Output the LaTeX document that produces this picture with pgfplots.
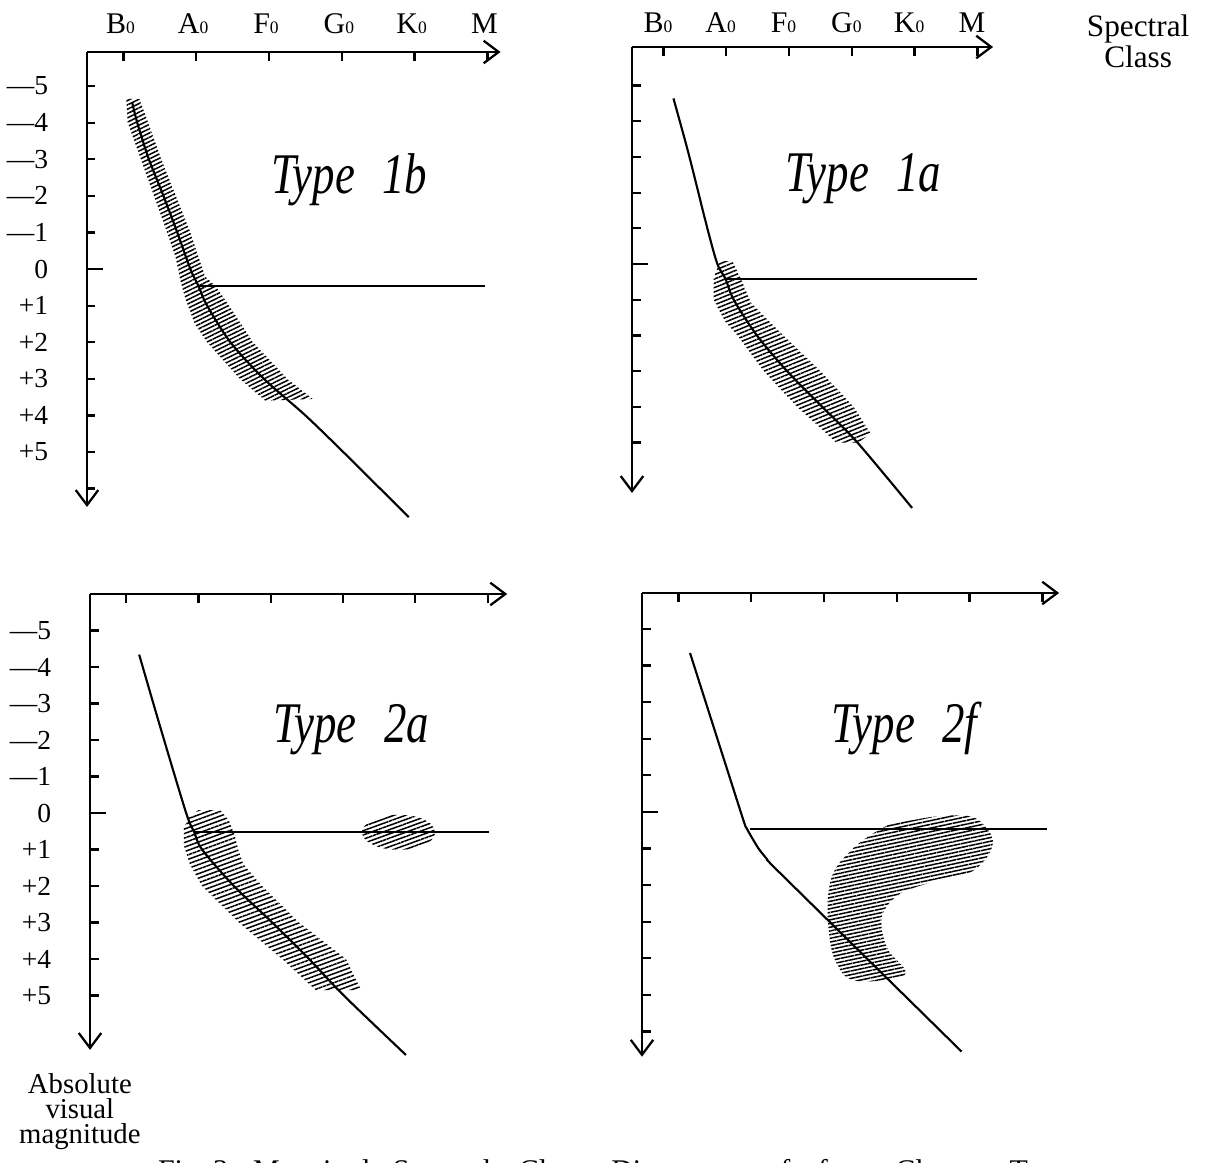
\documentclass[border=0pt]{standalone}
\usepackage{fontspec}
\setmainfont{Liberation Serif}
\usepackage{graphicx}
\usepackage{pgfplots}
\pgfplotsset{compat=1.18}
\usetikzlibrary{arrows.meta,patterns.meta}

\newcommand{\typelabel}[2]{\scalebox{0.78}[1]{\fontsize{23}{23}\selectfont\itshape #1\hspace{14pt}#2}}

\pgfplotsset{
  hrd/.style={
    axis x line=top,
    axis y line=left,
    y dir=reverse,
    clip=false,
    xmin=-0.5,
    xtick={0,1,2,3,4,5},
    ytick={-5,-4,-3,-2,-1,0,1,2,3,4,5},
    tick align=inside,
    major tick length=3.4pt,
    every tick/.style={black, line width=0.9pt},
    axis line style={line width=1.1pt, -{Straight Barb[length=6pt,width=9pt,line width=0.9pt]}},
    tick label style={font=\fontsize{11}{13}\selectfont},
    xticklabel style={anchor=base, yshift=7.6pt, font=\fontsize{12}{14}\selectfont},
    yticklabel style={anchor=east, xshift=-12pt},
    xticklabels={},
    yticklabels={},
    anchor=north west,
  },
  speclabels/.style={xticklabels={B{\scriptsize 0},A{\scriptsize 0},F{\scriptsize 0},G{\scriptsize 0},K{\scriptsize 0},M}},
  maglabels/.style={yticklabels={—5,—4,—3,—2,—1,0,+1,+2,+3,+4,+5}},
  msline/.style={black, line width=0.85pt, smooth, tension=0.5, mark=none},
  hline/.style={black, line width=0.85pt, mark=none},
}

\begin{document}
\begin{tikzpicture}
\path[use as bounding box] (0pt,0pt) rectangle (482.8pt,-465.2pt);

% ---------------- Type 1b ----------------
\begin{axis}[hrd, speclabels, maglabels, at={(34.8pt,-20.8pt)},
  x=29.12pt, y=14.64pt, ymin=-5.93, xmax=5.18, ymax=6.5,
  ytick={-5,-4,-3,-2,-1,0,1,2,3,4,5,6},
  xticklabel style={xshift=-1.2pt}]
\addplot[draw=none, pattern={Lines[angle=26,distance=1.55pt,line width=0.6pt]}] coordinates {
 (0.04,-4.65) (0.06,-4) (0.24,-3) (0.42,-2) (0.6,-1) (0.72,-0.3) (0.78,0.3) (0.85,0.8) (0.98,1.5) (1.15,2) (1.6,3) (1.95,3.6)
 (2.6,3.55) (2.25,3) (1.78,2) (1.45,1) (1.28,0.5) (1.12,0.2) (0.92,-1) (0.72,-2) (0.52,-3) (0.34,-4) (0.22,-4.65)} -- cycle;
\addplot[msline] coordinates {(0.12,-4.56) (0.19,-4) (0.35,-3) (0.55,-2) (0.74,-1) (0.92,0) (1.03,0.46) (1.15,1) (1.47,2) (1.93,3) (2.5,4) (3.02,5) (3.92,6.78)};
\addplot[hline] coordinates {(1.03,0.46) (4.97,0.46)};
\draw[black, line width=0.9pt] (axis cs:-0.5,0) -- ++(6.5pt,0pt);
\node at (axis cs:3.1,-2.45) {\typelabel{Type}{1b}};
\end{axis}

% ---------------- Type 1a ----------------
\begin{axis}[hrd, speclabels, at={(252.8pt,-18.8pt)},
  x=25.12pt, y=14.28pt, ymin=-6.08, xmax=5.25, ymax=6.41,
  xticklabel style={yshift=-1.6pt, xshift=-2.2pt}]
\addplot[draw=none, pattern={Lines[angle=22,distance=1.6pt,line width=0.6pt]}] coordinates {
 (0.9,-0.08) (0.8,0.4) (0.8,1) (0.98,1.6) (1.18,2) (1.6,3) (2.13,4) (2.6,4.75) (2.75,5.0)
 (3.1,5.0) (3.3,4.75) (3.03,4) (2.5,3) (1.91,2) (1.4,1.1) (1.23,0.4) (1.1,-0.08)} -- cycle;
\addplot[msline] coordinates {(0.16,-4.64) (0.4,-3.1) (0.7,-1) (0.86,0) (0.99,0.42) (1.12,1) (1.49,2) (1.97,3) (2.53,4) (3.09,5) (3.96,6.83)};
\addplot[hline] coordinates {(1.0,0.42) (5.0,0.42)};
\draw[black, line width=0.9pt] (axis cs:-0.5,0) -- ++(6.5pt,0pt);
\node at (axis cs:3.18,-2.39) {\typelabel{Type}{1a}};
\node[anchor=north, inner sep=0pt, align=center, font=\fontsize{12.5}{11.2}\selectfont] at (axis cs:7.56,-7.0) {Spectral\\Class};
\end{axis}

% ---------------- Type 2a ----------------
\begin{axis}[hrd, maglabels, at={(36pt,-237.6pt)},
  x=28.92pt, y=14.6pt, ymin=-6, xmax=5.27, ymax=6.49]
\addplot[draw=none, pattern={Lines[angle=20,distance=1.7pt,line width=0.6pt]}] coordinates {
 (1.0,-0.08) (0.88,0.1) (0.8,0.4) (0.8,0.9) (0.88,1.4) (1.05,2) (1.56,3) (2.16,4) (2.62,4.85)
 (3.25,4.85) (3.04,4) (2.39,3) (1.88,2) (1.62,1.4) (1.55,1.0) (1.5,0.6) (1.42,0.2) (1.3,-0.08)} -- cycle;
\addplot[draw=none, smooth, pattern={Lines[angle=20,distance=1.6pt,line width=0.6pt]}] coordinates {
 (4.28,0.53) (4.21,0.77) (4.03,0.95) (3.77,1.01) (3.52,0.95) (3.33,0.77) (3.26,0.53) (3.33,0.29) (3.52,0.11) (3.77,0.05) (4.03,0.11) (4.21,0.29) (4.28,0.53)} -- cycle;
\addplot[msline] coordinates {(0.18,-4.34) (0.48,-2.3) (0.83,0) (0.94,0.52) (1.05,1) (1.49,2) (2.02,3) (2.53,4) (3.01,5) (3.87,6.63)};
\addplot[hline] coordinates {(0.94,0.52) (5.02,0.52)};
\draw[black, line width=0.9pt] (axis cs:-0.5,0) -- ++(6.5pt,0pt);
\node at (axis cs:3.11,-2.29) {\typelabel{Type}{2a}};
\node[align=center, inner sep=0pt, font=\fontsize{11.5}{10}\selectfont] at (axis cs:-0.64,8.19) {Absolute\\visual\\magnitude};
\end{axis}

% ---------------- Type 2f ----------------
\begin{axis}[hrd, at={(256.8pt,-237.2pt)},
  x=29.12pt, y=14.64pt, ymin=-5.98, xmax=5.23, ymax=6.69,
  ytick={-5,-4,-3,-2,-1,0,1,2,3,4,5,6}]
\addplot[draw=none, smooth, tension=0.6, pattern={Lines[angle=12,distance=1.45pt,line width=0.6pt]}] coordinates {
 (2.88,0.36) (3.52,0.13) (4.02,0.13) (4.25,0.49) (4.32,0.86) (4.21,1.31) (3.98,1.68) (3.52,1.90) (3.06,2.22) (2.83,2.68) (2.79,3.13) (2.88,3.77) (3.11,4.45) (2.42,4.61) (2.15,4.04) (2.06,3.13) (2.06,2.22) (2.15,1.58) (2.38,1.04) (2.61,0.67) (2.88,0.36)} -- cycle;
\addplot[black, line width=0.85pt, smooth, tension=0.3, mark=none] coordinates {(0.16,-4.34) (0.88,0.15) (0.93,0.42) (1.0,0.67) (1.1,1.0) (1.22,1.3) (1.37,1.62) (3.89,6.55)};
\addplot[hline] coordinates {(0.98,0.46) (5.07,0.46)};
\draw[black, line width=0.9pt] (axis cs:-0.5,0) -- ++(6.5pt,0pt);
\node at (axis cs:3.10,-2.27) {\typelabel{Type}{2f}};
\end{axis}

\node[anchor=base west, inner sep=0pt, font=\fontsize{12}{14}\selectfont] at (63pt,-472pt)
  {Fig.\ 3.\hspace{7pt}Magnitude-Spectral\hspace{11pt}Class\hspace{11pt}Diagrams\hspace{15pt}of\hspace{11pt}four\hspace{11pt}Cluster\hspace{11pt}Types};
\end{tikzpicture}
\end{document}
